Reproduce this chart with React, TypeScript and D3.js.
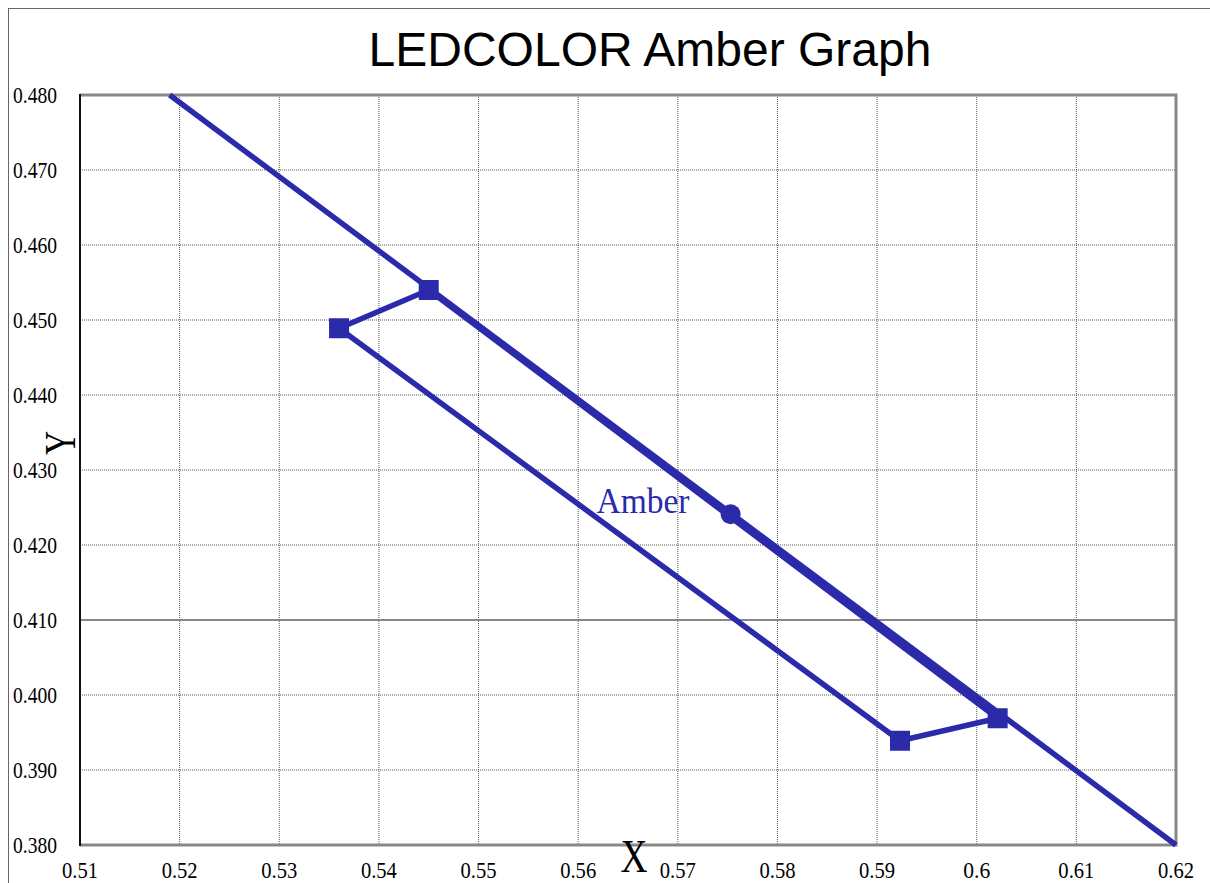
import React, { useEffect, useRef } from "react";
import * as d3 from "d3";

// chromaticity readings
const xTicks = [0.51, 0.52, 0.53, 0.54, 0.55, 0.56, 0.57, 0.58, 0.59, 0.6, 0.61, 0.62];
const yTicks = [0.38, 0.39, 0.40, 0.41, 0.42, 0.43, 0.44, 0.45, 0.46, 0.47, 0.48];
const locusX = [0.519, 0.62];
const locusY = [0.48, 0.38];
const binX = [0.545, 0.536, 0.5923, 0.6021, 0.545];
const binY = [0.454, 0.4489, 0.3939, 0.3969, 0.454];
const centerX = [0.5753];
const centerY = [0.4241];

const BLUE = "#2a2aaa";

export default function App() {
  const ref = useRef<SVGSVGElement>(null);

  useEffect(() => {
    const svg = d3.select(ref.current);
    svg.selectAll("*").remove();

    const left = 80, right = 1176, top = 95, bottom = 845;
    const x = d3.scaleLinear().domain([0.51, 0.62]).range([left, right]);
    const y = d3.scaleLinear().domain([0.38, 0.48]).range([bottom, top]);

    // outer frame
    svg.append("rect")
      .attr("x", 8.5).attr("y", 8.5)
      .attr("width", 1300).attr("height", 1000)
      .attr("fill", "none").attr("stroke", "#666").attr("stroke-width", 1);

    svg.append("text")
      .attr("x", 650).attr("y", 66)
      .attr("text-anchor", "middle")
      .style("font-family", "'Liberation Sans', Arial, sans-serif")
      .style("font-size", "48px")
      .text("LEDCOLOR Amber Graph");

    const g = svg.append("g");

    // grid
    g.selectAll(".vgrid").data(xTicks.slice(1, -1)).join("line")
      .attr("x1", d => x(d)).attr("x2", d => x(d))
      .attr("y1", top).attr("y2", bottom)
      .attr("stroke", "#555").attr("stroke-width", 1)
      .attr("stroke-dasharray", "1,1");
    const isMid = (d: number) => Math.abs(d - 0.41) < 1e-9;
    g.selectAll(".hgrid").data(yTicks.slice(1, -1)).join("line")
      .attr("y1", d => y(d)).attr("y2", d => y(d))
      .attr("x1", left).attr("x2", right)
      .attr("stroke", d => (isMid(d) ? "#888" : "#555"))
      .attr("stroke-width", d => (isMid(d) ? 2 : 1))
      .attr("stroke-dasharray", d => (isMid(d) ? null : "1,1"));

    // plot border
    g.append("path")
      .attr("d", `M${left},${top}H${right}V${bottom}H${left}`)
      .attr("fill", "none").attr("stroke", "#888").attr("stroke-width", 3);
    g.append("line")
      .attr("x1", left).attr("x2", left).attr("y1", top - 1).attr("y2", bottom + 1)
      .attr("stroke", "#111").attr("stroke-width", 2);

    // tick labels
    const tickFont = "'Liberation Serif', 'DejaVu Serif', serif";
    const fmtX = (d: number) => String(+d.toFixed(2));
    g.selectAll(".xl").data(xTicks).join("text")
      .attr("x", d => x(d)).attr("y", 878)
      .attr("text-anchor", "middle")
      .attr("textLength", d => fmtX(d).length * 9)
      .attr("lengthAdjust", "spacingAndGlyphs")
      .style("font-family", tickFont).style("font-size", "24px")
      .text(fmtX);
    g.selectAll(".yl").data(yTicks).join("text")
      .attr("x", 13).attr("y", d => y(d) + 8)
      .attr("textLength", 44)
      .attr("lengthAdjust", "spacingAndGlyphs")
      .style("font-family", tickFont).style("font-size", "23px")
      .text(d => d3.format(".3f")(d));

    // axis titles
    g.append("text")
      .attr("x", 634).attr("y", 872)
      .attr("text-anchor", "middle")
      .attr("textLength", 27)
      .attr("lengthAdjust", "spacingAndGlyphs")
      .style("font-family", tickFont).style("font-size", "46px")
      .text("X");
    g.append("text")
      .attr("transform", `translate(75,443) rotate(-90)`)
      .attr("text-anchor", "middle")
      .attr("textLength", 24)
      .attr("lengthAdjust", "spacingAndGlyphs")
      .style("font-family", tickFont).style("font-size", "44px")
      .text("Y");

    const pts = (xs: number[], ys: number[]) => xs.map((v, i) => [x(v), y(ys[i])] as [number, number]);

    const plot = g.append("g");
    plot.append("path")
      .attr("d", d3.line()(pts(locusX, locusY)))
      .attr("fill", "none").attr("stroke", BLUE).attr("stroke-width", 5.5);
    plot.append("path")
      .attr("d", d3.line()(pts(binX, binY)))
      .attr("fill", "none").attr("stroke", BLUE).attr("stroke-width", 5.5)
      .attr("stroke-linejoin", "round");

    plot.selectAll(".sq").data(pts(binX.slice(0, 4), binY.slice(0, 4))).join("rect")
      .attr("x", d => d[0] - 10).attr("y", d => d[1] - 10)
      .attr("width", 20).attr("height", 20)
      .attr("fill", BLUE);
    plot.selectAll(".dot").data(pts(centerX, centerY)).join("circle")
      .attr("cx", d => d[0]).attr("cy", d => d[1]).attr("r", 10)
      .attr("fill", BLUE);

    plot.append("text")
      .attr("x", 643).attr("y", 513)
      .attr("text-anchor", "middle")
      .attr("fill", BLUE)
      .attr("textLength", 93)
      .attr("lengthAdjust", "spacingAndGlyphs")
      .style("font-family", tickFont)
      .style("font-size", "36px")
      .text("Amber");
  }, []);

  return (
    <svg
      ref={ref}
      width={1210}
      height={883}
      style={{ position: "absolute", left: 0, top: 0, display: "block", background: "#fff" }}
    />
  );
}
